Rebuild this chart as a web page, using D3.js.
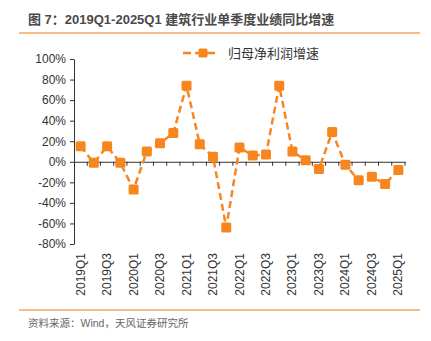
<!DOCTYPE html>
<html>
<head>
<meta charset="utf-8">
<script src="https://cdn.jsdelivr.net/npm/d3@7"></script>
<style>
  body { margin: 0; background: #fff; }
  svg text { font-family: "Liberation Sans", Arial, "Noto Sans CJK SC", sans-serif; }
</style>
</head>
<body>
<div id="chart"></div>
<script>
var width = 431
var height = 341

var quarters = ["2019Q1","2019Q2","2019Q3","2019Q4","2020Q1","2020Q2","2020Q3","2020Q4",
  "2021Q1","2021Q2","2021Q3","2021Q4","2022Q1","2022Q2","2022Q3","2022Q4",
  "2023Q1","2023Q2","2023Q3","2023Q4","2024Q1","2024Q2","2024Q3","2024Q4","2025Q1"]
var profitGrowth = [15, -1, 15, -1, -27, 10, 18, 28, 74, 17, 5, -64, 14, 6, 7, 74,
  10, 1.5, -7, 29, -3, -18, -14.5, -21.5, -8]
var yTicks = [-80, -60, -40, -20, 0, 20, 40, 60, 80, 100]

var orange = "#F7861F"
var margin = {left: 74, right: 26, top: 59, bottom: 97}

var svg = d3.select("#chart").append("svg")
  .attr("width", width)
  .attr("height", height)

// title + rules
svg.append("text")
  .attr("x", 28).attr("y", 24)
  .attr("font-size", 13).attr("font-weight", "bold")
  .attr("fill", "#4a4a4a")
  .style("font-family", "'Liberation Sans', 'Noto Sans CJK SC', sans-serif")
  .text("图 7：2019Q1-2025Q1 建筑行业单季度业绩同比增速")

svg.append("line")
  .attr("x1", 19).attr("x2", 420).attr("y1", 33).attr("y2", 33)
  .attr("stroke", "#F4A460").attr("stroke-width", 1.5)

svg.append("line")
  .attr("x1", 19).attr("x2", 420).attr("y1", 310).attr("y2", 310)
  .attr("stroke", "#F4A460").attr("stroke-width", 1.5)

svg.append("text")
  .attr("x", 28).attr("y", 327)
  .attr("font-size", 10.5)
  .attr("fill", "#666")
  .style("font-family", "'Liberation Sans', 'Noto Sans CJK SC', sans-serif")
  .text("资料来源：Wind，天风证券研究所")

var x = d3.scaleBand()
  .domain(quarters)
  .range([margin.left, width - margin.right])

var y = d3.scaleLinear()
  .domain([-80, 100])
  .range([height - margin.bottom, margin.top])

// y axis
var yAxis = svg.append("g")
  .attr("transform", "translate(" + margin.left + ",0)")
  .call(d3.axisLeft(y).tickValues(yTicks).tickSize(4).tickSizeOuter(0)
    .tickFormat(function(d) { return d + "%" }))
yAxis.selectAll("text").attr("font-size", 12).attr("fill", "#333").attr("dx", -1)
yAxis.selectAll("line, path").attr("stroke", "#333")

// x axis at 0
var xAxis = svg.append("g")
  .attr("transform", "translate(0," + y(0) + ")")
  .call(d3.axisBottom(x).tickSize(0).tickFormat(""))
xAxis.select("path").attr("stroke", "#333")

svg.append("g")
  .selectAll("line")
  .data(quarters)
  .enter().append("line")
  .attr("x1", function(d) { return x(d) + x.bandwidth() })
  .attr("x2", function(d) { return x(d) + x.bandwidth() })
  .attr("y1", y(0)).attr("y2", y(0) + 4)
  .attr("stroke", "#333")

// x labels every other quarter
svg.append("g")
  .selectAll("text")
  .data(quarters.filter(function(d, i) { return i % 2 == 0 }))
  .enter().append("text")
  .attr("transform", function(d) {
    return "translate(" + (x(d) + x.bandwidth() / 2 + 4) + "," + (height - margin.bottom + 9) + ") rotate(-90)"
  })
  .attr("text-anchor", "end")
  .attr("font-size", 12)
  .attr("fill", "#333")
  .text(function(d) { return d })

// line
var line = d3.line()
  .x(function(d, i) { return x(quarters[i]) + x.bandwidth() / 2 })
  .y(function(d) { return y(d) })

svg.append("path")
  .datum(profitGrowth)
  .attr("d", line)
  .attr("fill", "none")
  .attr("stroke", orange)
  .attr("stroke-width", 2.5)
  .attr("stroke-dasharray", "7,4")

svg.append("g")
  .selectAll("rect")
  .data(profitGrowth)
  .enter().append("rect")
  .attr("x", function(d, i) { return x(quarters[i]) + x.bandwidth() / 2 - 5 })
  .attr("y", function(d) { return y(d) - 5 })
  .attr("width", 10).attr("height", 10)
  .attr("rx", 1.5)
  .attr("fill", orange)

// legend
var lg = svg.append("g").attr("transform", "translate(183,53)")
lg.append("line")
  .attr("x1", 0).attr("x2", 40).attr("y1", 0).attr("y2", 0)
  .attr("stroke", orange).attr("stroke-width", 2.5)
  .attr("stroke-dasharray", "8,4,8,4,8")
lg.append("rect")
  .attr("x", 15.5).attr("y", -4.5).attr("width", 9).attr("height", 9)
  .attr("rx", 1.5)
  .attr("fill", orange)
lg.append("text")
  .attr("x", 45).attr("y", 5)
  .attr("font-size", 13).attr("fill", "#333")
  .style("font-family", "'Noto Sans CJK SC', sans-serif")
  .text("归母净利润增速")
</script>
</body>
</html>
